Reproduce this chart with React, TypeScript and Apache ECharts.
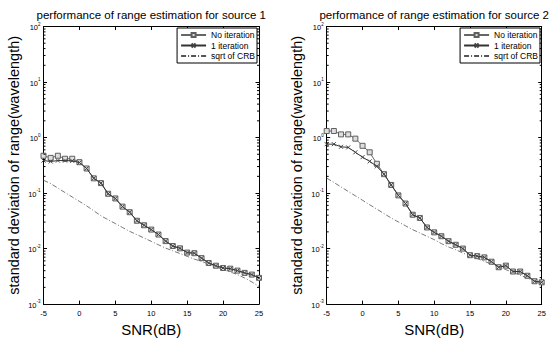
import React, { useEffect, useRef } from "react";
import * as echarts from "echarts";

const snr = [-5, -4, -3, -2, -1, 0, 1, 2, 3, 4, 5, 6, 7, 8, 9, 10, 11, 12, 13, 14, 15, 16, 17, 18, 19, 20, 21, 22, 23, 24, 25];

const noIter1 = [0.47, 0.43, 0.47, 0.415, 0.415, 0.36, 0.277, 0.184, 0.151, 0.097, 0.08, 0.0569, 0.0452, 0.0317, 0.0263, 0.022, 0.0179, 0.01364, 0.01112, 0.0101, 0.00847, 0.00826, 0.00673, 0.0055, 0.00491, 0.00447, 0.00435, 0.00401, 0.00365, 0.0034, 0.00297];
const oneIter1 = [0.385, 0.37, 0.385, 0.385, 0.38, 0.355, 0.277, 0.184, 0.151, 0.097, 0.08, 0.0569, 0.0452, 0.0317, 0.0263, 0.022, 0.0179, 0.01364, 0.01112, 0.0101, 0.00847, 0.00826, 0.00673, 0.0055, 0.00491, 0.00447, 0.00435, 0.00401, 0.00365, 0.0034, 0.00297];
const crb1 = [0.17, 0.148, 0.123, 0.102, 0.085, 0.0708, 0.0589, 0.0479, 0.0389, 0.0331, 0.0282, 0.024, 0.0204, 0.0178, 0.0155, 0.0135, 0.0117, 0.0102, 0.00912, 0.00813, 0.00724, 0.00646, 0.00589, 0.00525, 0.00468, 0.00417, 0.0038, 0.00339, 0.00295, 0.00251, 0.00209];

const noIter2 = [1.31, 1.31, 1.14, 1.14, 0.955, 0.71, 0.542, 0.337, 0.219, 0.14, 0.0908, 0.0647, 0.0407, 0.0356, 0.024, 0.0196, 0.0167, 0.0136, 0.0117, 0.01, 0.0076, 0.00731, 0.00694, 0.0058, 0.00461, 0.00493, 0.00386, 0.00386, 0.00324, 0.00258, 0.00247];
const oneIter2 = [0.76, 0.76, 0.682, 0.664, 0.542, 0.443, 0.372, 0.303, 0.219, 0.14, 0.0908, 0.0647, 0.0407, 0.0356, 0.024, 0.0196, 0.0167, 0.0136, 0.0117, 0.01, 0.0076, 0.00731, 0.00694, 0.0058, 0.00461, 0.00493, 0.00386, 0.00386, 0.00324, 0.00258, 0.00247];
const crb2 = [0.186, 0.155, 0.129, 0.107, 0.0891, 0.0741, 0.0617, 0.0513, 0.0427, 0.0355, 0.0302, 0.0257, 0.0219, 0.0191, 0.0166, 0.0145, 0.0123, 0.0107, 0.00955, 0.00832, 0.00741, 0.00661, 0.00589, 0.00525, 0.00468, 0.00417, 0.00372, 0.00331, 0.00295, 0.00257, 0.00224];

const titles = ["performance of range estimation for source 1", "performance of range estimation for source 2"];
const legendNames = ["No iteration", "1 iteration", "sqrt of CRB"];
const xName = "SNR(dB)";
const yName = "standard deviation of range(wavelength)";
const xMin = -5;
const xMax = 25;
const xStep = 5;
const yMin = 0.001;
const yMax = 100;

const minorTicks: number[] = [];
for (let d = -3; d < 2; d++) {
  for (let k = 2; k <= 9; k++) minorTicks.push(k * Math.pow(10, d));
}

const FONT = "'Liberation Sans', Arial, Helvetica, sans-serif";

const grids = [
  { left: 43.5, width: 215.5, top: 26.5, height: 283.5 },
  { left: 326.7, width: 215, top: 26.5, height: 283.5 },
];

export default function App() {
  const ref = useRef<HTMLDivElement>(null);
  useEffect(() => {
    if (!ref.current) return;
    const chart = echarts.init(ref.current, undefined, { renderer: "svg" });
    const sets = [
      [noIter1, oneIter1, crb1],
      [noIter2, oneIter2, crb2],
    ];
    const xAxis: any[] = [];
    const yAxis: any[] = [];
    const series: any[] = [];
    const legend: any[] = [];
    const graphic: any[] = [];
    const axisLine = { show: true, onZero: false, lineStyle: { color: "#000", width: 1 } };
    const axisTick = { show: true, inside: true, length: 3.5, lineStyle: { color: "#000" } };
    grids.forEach((g, i) => {
      xAxis.push({
        type: "value", gridIndex: i, position: "bottom", min: xMin, max: xMax, interval: xStep,
        name: xName, nameLocation: "middle", nameGap: 15,
        nameTextStyle: { fontSize: 15, color: "#000", fontFamily: FONT },
        axisLine, axisTick,
        axisLabel: { show: true, fontSize: 7.5, color: "#000", fontFamily: FONT, margin: 5 },
        splitLine: { show: false },
      });
      xAxis.push({
        type: "value", gridIndex: i, position: "top", min: xMin, max: xMax, interval: xStep,
        axisLine, axisTick,
        axisLabel: { show: false },
        splitLine: { show: false },
      });
      yAxis.push({
        type: "log", logBase: 10, gridIndex: i, position: "left", min: yMin, max: yMax,
        name: yName, nameLocation: "middle", nameGap: 22,
        nameTextStyle: { fontSize: 14.5, color: "#000", fontFamily: FONT },
        axisLine, axisTick,
        axisLabel: {
          show: true, margin: 3, color: "#000",
          formatter: (v: number) => `{b|10}{s|${Math.round(Math.log10(v))}}`,
          rich: {
            b: { fontSize: 7.5, fontFamily: FONT, color: "#000", lineHeight: 10, verticalAlign: "bottom" },
            s: { fontSize: 4.5, fontFamily: FONT, color: "#000", lineHeight: 10, verticalAlign: "top" },
          },
        },
        splitLine: { show: false },
      });
      yAxis.push({
        type: "log", logBase: 10, gridIndex: i, position: "right", min: yMin, max: yMax,
        axisLine, axisTick,
        axisLabel: { show: false },
        splitLine: { show: false },
      });
      const [a, b, c] = sets[i];
      series.push({
        type: "line", name: legendNames[0], xAxisIndex: i * 2, yAxisIndex: i * 2,
        data: snr.map((x, k) => [x, a[k]]),
        symbol: "rect", symbolSize: 5,
        lineStyle: { color: "#666", width: 1 },
        itemStyle: { color: "#dedede", borderColor: "#5f5f5f", borderWidth: 1 },
        z: 3,
      });
      series.push({
        type: "line", name: legendNames[1], xAxisIndex: i * 2, yAxisIndex: i * 2,
        data: snr.map((x, k) => [x, b[k]]),
        symbol: "path://M0,0L10,10M10,0L0,10", symbolSize: 4,
        lineStyle: { color: "#333", width: 1 },
        itemStyle: { color: "none", borderColor: "#444", borderWidth: 1 },
        z: 4,
      });
      series.push({
        type: "line", name: legendNames[2], xAxisIndex: i * 2, yAxisIndex: i * 2,
        data: snr.map((x, k) => [x, c[k]]),
        symbol: "none",
        lineStyle: { color: "#555", width: 0.8, type: [5, 2, 1, 2] },
        itemStyle: { color: "#555", opacity: 0 },
        z: 2,
      });
      series.push({
        type: "custom", xAxisIndex: i * 2, yAxisIndex: i * 2, silent: true,
        data: minorTicks.map((v) => [xMin, v]),
        renderItem: (_p: any, api: any) => {
          const v = api.value(1);
          const p = api.coord([xMin, v]);
          const q = api.coord([xMax, v]);
          return {
            type: "group",
            children: [
              { type: "line", shape: { x1: p[0], y1: p[1], x2: p[0] + 2, y2: p[1] }, style: { stroke: "#000", lineWidth: 1 } },
              { type: "line", shape: { x1: q[0], y1: q[1], x2: q[0] - 2, y2: q[1] }, style: { stroke: "#000", lineWidth: 1 } },
            ],
          };
        },
        z: 5,
      });
      legend.push({
        show: true, orient: "vertical", right: i === 0 ? 294 : 11, top: 28,
        data: legendNames,
        padding: [2, 2, 2, 3], itemGap: 0.5, itemWidth: 25, itemHeight: 5, itemTextGap: 4,
        backgroundColor: "#fff", borderColor: "#000", borderWidth: 1,
        textStyle: { fontSize: 8.5, color: "#000", fontFamily: FONT, lineHeight: 10 },
        selectedMode: false,
      });
      graphic.push({
        type: "text", x: g.left + g.width / 2, y: 15,
        style: { text: titles[i], align: "center", verticalAlign: "middle", fontSize: 11.5, fontFamily: FONT, fill: "#000" },
      });
    });
    chart.setOption({
      animation: false,
      backgroundColor: "#fff",
      grid: grids.map((g) => ({ ...g, containLabel: false })),
      xAxis, yAxis, series, legend, graphic,
    });
    return () => chart.dispose();
  }, []);
  return <div ref={ref} style={{ position: "fixed", left: 0, top: 0, width: 551, height: 342, background: "#fff" }} />;
}
